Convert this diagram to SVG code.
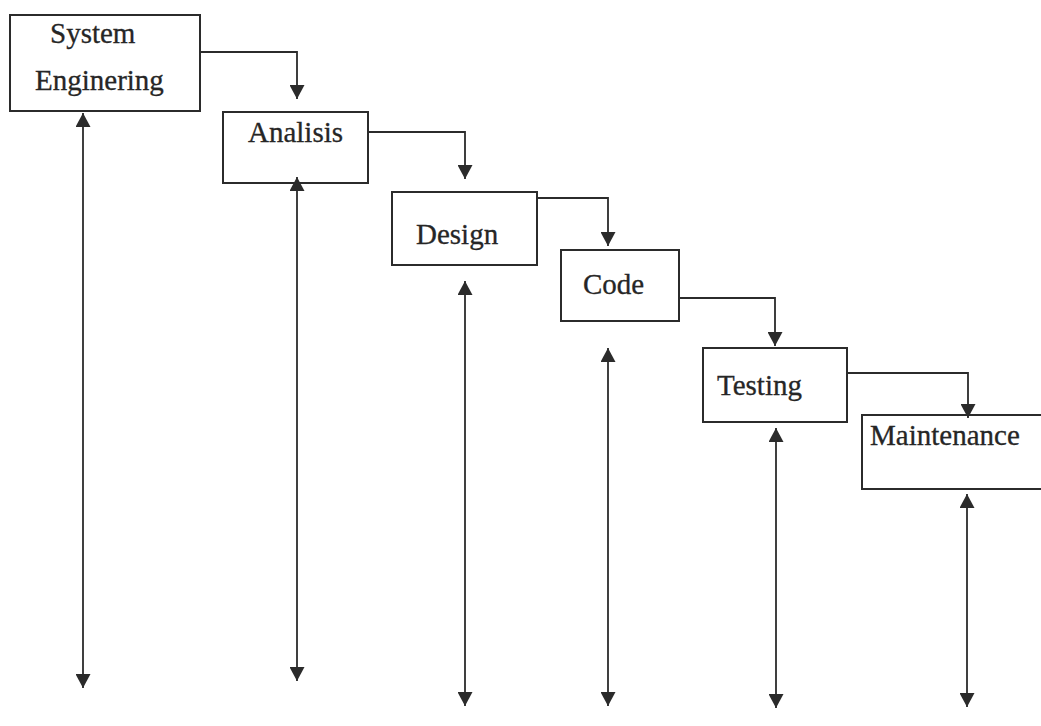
<svg xmlns="http://www.w3.org/2000/svg" width="1041" height="726" viewBox="0 0 1041 726">
  <style>
    .box { fill: none; stroke: #2b2b2b; stroke-width: 2; }
    .lbl { font-family: "Liberation Serif", "Times New Roman", serif; font-size: 29px; fill: #262626; stroke: #262626; stroke-width: 0.3; }
    .flow { fill: none; stroke: #2b2b2b; stroke-width: 1.8; marker-end: url(#ah); }
    .bi { fill: none; stroke: #2b2b2b; stroke-width: 1.8; marker-start: url(#ah); marker-end: url(#ah); }
  </style>
  <defs>
    <marker id="ah" markerUnits="userSpaceOnUse" markerWidth="15" markerHeight="15" refX="14" refY="7.5" orient="auto-start-reverse" viewBox="0 0 15 15">
      <path d="M0,0 L14,7.5 L0,15 z" fill="#2b2b2b"/>
    </marker>
  </defs>
  <rect x="0" y="0" width="1041" height="726" fill="#ffffff"/>

  <g id="connectors">
    <path class="flow" d="M200,52 H297 V99"/>
    <path class="flow" d="M368,132 H465 V179"/>
    <path class="flow" d="M537,198 H608 V246"/>
    <path class="flow" d="M679,298 H775 V346"/>
    <path class="flow" d="M847,373 H968 V418"/>
    <line class="bi" x1="83" y1="113" x2="83" y2="688"/>
    <line class="bi" x1="297" y1="177" x2="297" y2="681"/>
    <line class="bi" x1="465" y1="281" x2="465" y2="706"/>
    <line class="bi" x1="608" y1="348" x2="608" y2="706"/>
    <line class="bi" x1="776" y1="428" x2="776" y2="708"/>
    <line class="bi" x1="967" y1="494" x2="967" y2="707"/>
  </g>

  <g id="system-engineering">
    <rect class="box" x="10" y="15" width="190" height="96"/>
    <text class="lbl" x="50" y="43">System</text>
    <text class="lbl" x="35" y="90">Enginering</text>
  </g>
  <g id="analisis">
    <rect class="box" x="223" y="112" width="145" height="71"/>
    <text class="lbl" x="248" y="142">Analisis</text>
  </g>
  <g id="design">
    <rect class="box" x="392" y="192" width="145" height="73"/>
    <text class="lbl" x="416" y="244">Design</text>
  </g>
  <g id="code">
    <rect class="box" x="561" y="250" width="118" height="71"/>
    <text class="lbl" x="583" y="294">Code</text>
  </g>
  <g id="testing">
    <rect class="box" x="703" y="348" width="144" height="74"/>
    <text class="lbl" x="717" y="395">Testing</text>
  </g>
  <g id="maintenance">
    <rect class="box" x="862" y="415" width="200" height="74"/>
    <text class="lbl" x="870" y="445">Maintenance</text>
  </g>
</svg>
